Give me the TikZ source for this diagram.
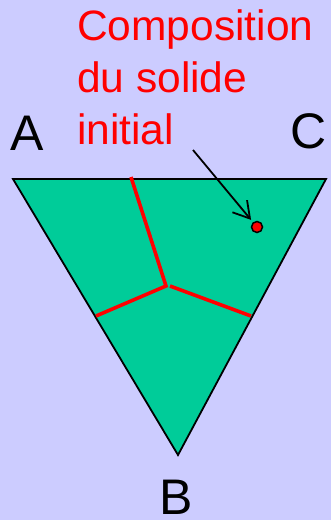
\documentclass[tikz,border=0pt]{standalone}
\usepackage{fontspec}
\setmainfont{Liberation Sans}
\usetikzlibrary{arrows.meta, positioning}
\definecolor{mybg}{HTML}{CCCCFF}
\definecolor{mygreen}{HTML}{00CC99}
\definecolor{myred}{HTML}{FF0000}
\tikzset{
	cornerlabel/.style={
			inner sep=0pt,
			anchor=base west,
			font=\fontsize{50}{60}\selectfont
		},
	redlabel/.style={
			inner sep=0pt,
			anchor=north west,
			align=left,
			text=myred,
			font=\fontsize{42.5}{52.5}\selectfont
		},
	boundary/.style={
			draw=myred,
			line width=3.6pt
		}
}

\begin{document}
\begin{tikzpicture}[x=1pt, y=-1pt]
\fill[mybg] (0,0) rectangle (331,520);
\useasboundingbox (0,0) rectangle (331,520);

% triangle
\coordinate (A) at (13,179);
\coordinate (C) at (326,179);
\coordinate (B) at (178,455);
\filldraw[fill=mygreen, draw=black, line width=1.8pt, line join=miter] (A) -- (C) -- (B) -- cycle;

% phase boundaries
\coordinate (top) at (131,177);
\coordinate (mid) at (166,286);
\coordinate (left) at (96,316);
\coordinate (midr) at (170,286);
\coordinate (right) at (251,316);
\draw[boundary] (top) -- (mid) -- (left);
\draw[boundary] (midr) -- (right);

% initial composition
\node[circle, fill=myred, draw=black, line width=1.5pt, minimum size=11pt, inner sep=0pt] (pt) at (257,227) {};
\node[redlabel] (lbl) at (77,9) {Composition\\du solide\\initial};
\coordinate (start) at (193,150);
\draw[line width=1.8pt, shorten >=3pt, -{Straight Barb[length=16pt, width=19pt]}] (start) -- (pt);

% vertex labels
\node[cornerlabel] (la) at (10,150) {A};
\node[cornerlabel] (lc) at (290,148) {C};
\node[cornerlabel] (lb) at (159,514) {B};
\end{tikzpicture}
\end{document}
